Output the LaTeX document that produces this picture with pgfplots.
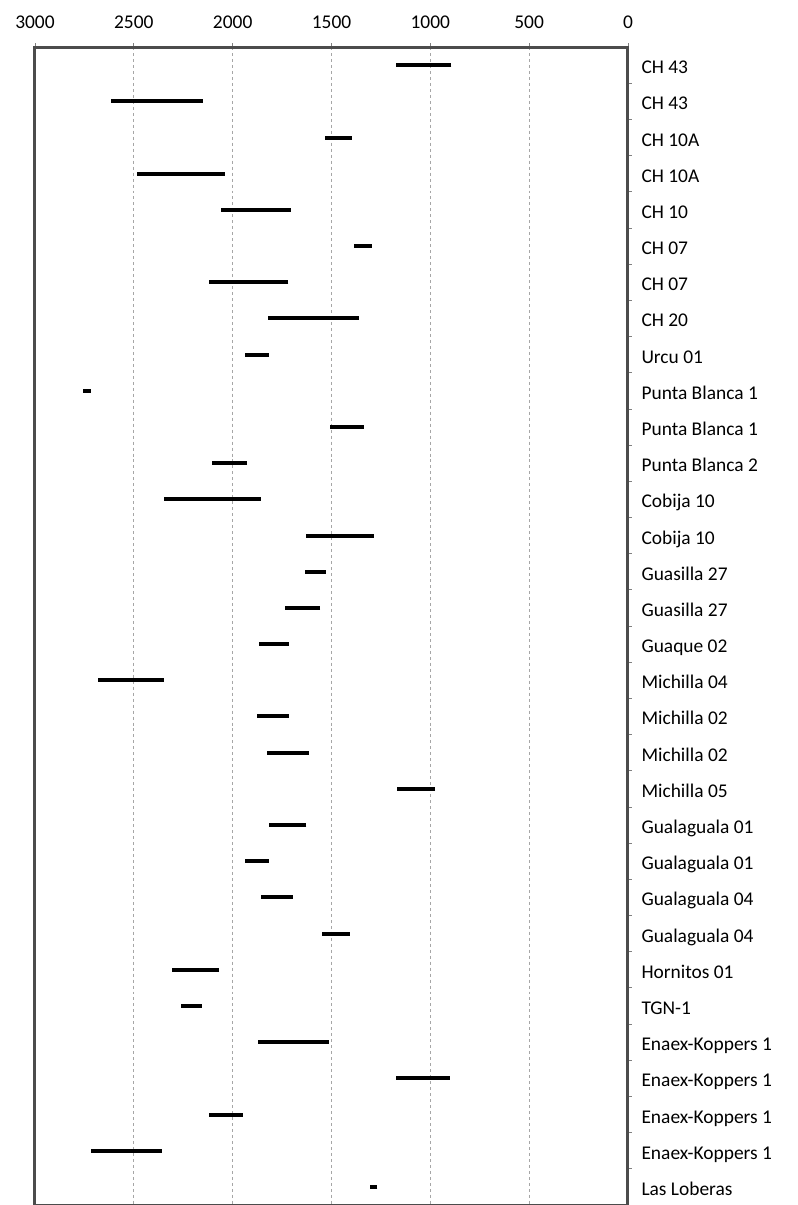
\documentclass[border=0pt]{standalone}
\usepackage{fontspec}
\setmainfont{Carlito}
\usepackage{pgfplots}
\pgfplotsset{compat=1.18}

\begin{document}
\begin{tikzpicture}
\begin{axis}[
    scale only axis,
    width=593bp, height=1158bp,
    x dir=reverse, y dir=reverse,
    xmin=0, xmax=3000, ymin=0.5, ymax=32.5,
    xtick={0,500,...,3000},
    xtick pos=upper, xticklabel pos=upper,
    ytick={1,...,32},
    ytick pos=right, yticklabel pos=right,
    major y tick style={draw=none},
    minor y tick num=1,
    minor y tick style={draw=gray, line width=0.8bp},
    minor tick length=4bp,
    major tick length=4bp,
    tick align=outside,
    x tick style={draw=gray, line width=0.8bp},
    xmajorgrids,
    major x grid style={dashed, gray!70, line width=0.8bp},
    axis line style={draw=gray!60!black, line width=3bp},
    tick label style={font=\fontsize{19.5}{23}\selectfont},
    /pgf/number format/assume math mode=true,
    /pgf/number format/set thousands separator={},
    xticklabel style={yshift=11bp},
    yticklabel style={anchor=base west, xshift=6bp, yshift=-8.5bp},
    yticklabels={CH 43, CH 43, CH 10A, CH 10A, CH 10, CH 07, CH 07, CH 20,
      Urcu 01, Punta Blanca 1, Punta Blanca 1, Punta Blanca 2, Cobija 10,
      Cobija 10, Guasilla 27, Guasilla 27, Guaque 02, Michilla 04,
      Michilla 02, Michilla 02, Michilla 05, Gualaguala 01, Gualaguala 01,
      Gualaguala 04, Gualaguala 04, Hornitos 01, TGN-1, Enaex-Koppers 1,
      Enaex-Koppers 1, Enaex-Koppers 1, Enaex-Koppers 1, Las Loberas},
    unbounded coords=jump,
    clip=false,
]
\addplot[black, line width=4bp, no marks] coordinates {
  (893,1) (1175,1) (nan,nan)
  (2151,2) (2617,2) (nan,nan)
  (1397,3) (1535,3) (nan,nan)
  (2039,4) (2484,4) (nan,nan)
  (1707,5) (2060,5) (nan,nan)
  (1297,6) (1386,6) (nan,nan)
  (1718,7) (2122,7) (nan,nan)
  (1363,8) (1819,8) (nan,nan)
  (1817,9) (1937,9) (nan,nan)
  (2719,10) (2758,10) (nan,nan)
  (1337,11) (1506,11) (nan,nan)
  (1927,12) (2107,12) (nan,nan)
  (1857,13) (2348,13) (nan,nan)
  (1285,14) (1629,14) (nan,nan)
  (1529,15) (1633,15) (nan,nan)
  (1558,16) (1734,16) (nan,nan)
  (1716,17) (1867,17) (nan,nan)
  (2348,18) (2679,18) (nan,nan)
  (1716,19) (1877,19) (nan,nan)
  (1616,20) (1826,20) (nan,nan)
  (976,21) (1167,21) (nan,nan)
  (1627,22) (1817,22) (nan,nan)
  (1817,23) (1937,23) (nan,nan)
  (1697,24) (1859,24) (nan,nan)
  (1407,25) (1548,25) (nan,nan)
  (2068,26) (2306,26) (nan,nan)
  (2157,27) (2259,27) (nan,nan)
  (1513,28) (1873,28) (nan,nan)
  (901,29) (1175,29) (nan,nan)
  (1948,30) (2118,30) (nan,nan)
  (2358,31) (2717,31) (nan,nan)
  (1268,32) (1305,32)
};
\coordinate (bl) at (axis cs:3000,32.5);
\end{axis}
\pgfresetboundingbox
\path (bl) ++(-35bp,0) rectangle ++(798bp,1205bp);
\end{tikzpicture}
\end{document}
